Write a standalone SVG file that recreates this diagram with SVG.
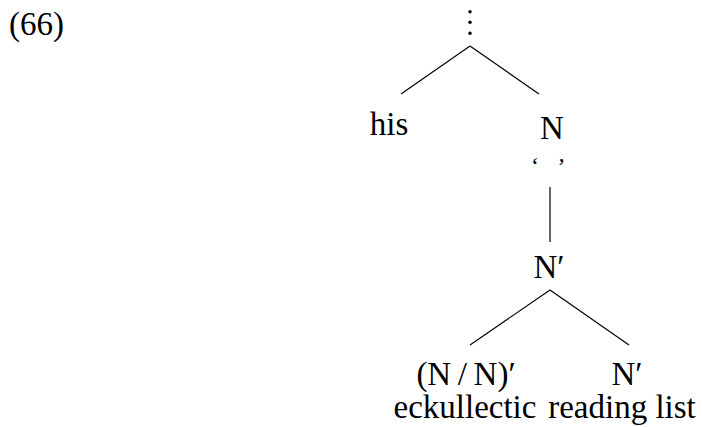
<svg xmlns="http://www.w3.org/2000/svg" width="702" height="427" viewBox="0 0 702 427">
  <style>
    text { font-family: "Liberation Serif", "Times New Roman", "DejaVu Serif", serif; font-size: 33px; fill: #000; }
    .c { text-anchor: middle; }
    .q { font-size: 24px; }
    line { stroke: #000; stroke-width: 1.2; }
  </style>
  <rect width="702" height="427" fill="#fff"/>
  <text id="label" x="9" y="35" font-size="32">(66)</text>

  <!-- tree branches -->
  <g id="edges">
    <line x1="470" y1="46" x2="401" y2="94"/>
    <line x1="470" y1="46" x2="539" y2="94"/>
    <line x1="550" y1="187" x2="550" y2="242"/>
    <line x1="550" y1="290" x2="470" y2="345"/>
    <line x1="550" y1="290" x2="629" y2="345"/>
  </g>

  <!-- vertical ellipsis at the top of the tree -->
  <g id="root">
    <circle cx="470" cy="11.7" r="1.7"/>
    <circle cx="470" cy="22.3" r="1.7"/>
    <circle cx="470" cy="33.3" r="1.7"/>
  </g>
  <g id="his"><text class="c" x="389" y="135">his</text></g>
  <g id="n-quoted">
    <text class="c" x="552" y="139">N</text>
    <text class="c q" x="535" y="174">‘</text>
    <text class="c q" x="561.5" y="174">’</text>
  </g>
  <g id="nbar"><text class="c" x="549" y="278">N′</text></g>
  <g id="modifier">
    <text class="c" x="466" y="385">(N&#8201;/&#8201;N)′</text>
    <text class="c" x="465" y="418">eckullectic</text>
  </g>
  <g id="head">
    <text class="c" x="627" y="385">N′</text>
    <text class="c" x="622" y="418">reading list</text>
  </g>
</svg>
